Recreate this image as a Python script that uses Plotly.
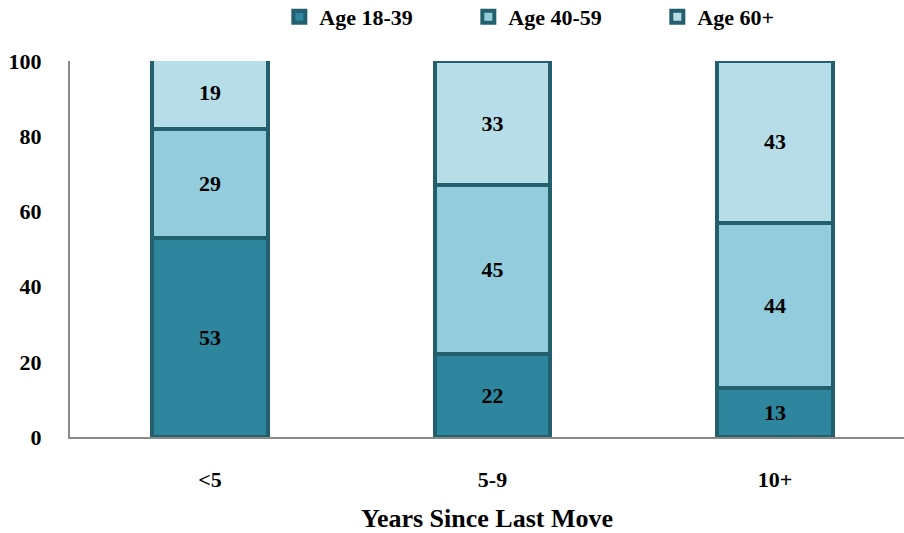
import plotly.graph_objects as go

categories = ["<5", "5-9", "10+"]
series_names = ["Age 18-39", "Age 40-59", "Age 60+"]
age_18_39 = [53, 22, 13]
age_40_59 = [29, 45, 44]
age_60_plus = [19, 33, 43]
y_ticks = [0, 20, 40, 60, 80, 100]

fills = ["#2E869E", "#93CDDD", "#B7DEE8"]
outline = "#245F6E"
serif = "Liberation Serif"

fig = go.Figure()
for name, vals, col in zip(series_names, [age_18_39, age_40_59, age_60_plus], fills):
    fig.add_trace(go.Bar(
        x=categories, y=vals, name=name,
        marker=dict(color=col, line=dict(color=outline, width=4)),
        width=0.41,
        text=[str(v) for v in vals],
        textposition="inside", insidetextanchor="middle",
        textfont=dict(family=serif, size=22, color="black", weight="bold"),
        constraintext="none",
        hoverinfo="skip",
    ))

fig.update_layout(
    barmode="stack",
    width=904, height=533,
    margin=dict(l=70, r=0, t=61, b=96, autoexpand=False),
    plot_bgcolor="white", paper_bgcolor="white",
    font=dict(family=serif, size=22, color="black", weight="bold"),
    showlegend=True,
    legend=dict(
        orientation="h", x=0.251, xanchor="left", y=1.117, yanchor="middle",
        font=dict(family=serif, size=22, color="black", weight="bold"),
        entrywidth=144, entrywidthmode="pixels", traceorder="normal",
        bgcolor="rgba(0,0,0,0)",
    ),
    uniformtext=dict(mode=False),
)
fig.update_xaxes(
    range=[-0.4956, 2.4566], showline=True, linecolor="#8a8a8a", linewidth=2,
    ticks="", ticklabelstandoff=22, showgrid=False,
    title=dict(text="Years Since Last Move", standoff=22,
               font=dict(family=serif, size=26, color="black", weight="bold")),
)
fig.update_yaxes(
    range=[0, 100], tickvals=y_ticks, showline=True, linecolor="#8a8a8a", linewidth=2,
    ticks="", ticklabelstandoff=22, showgrid=False, zeroline=False,
)

fig.write_html("out.html")
